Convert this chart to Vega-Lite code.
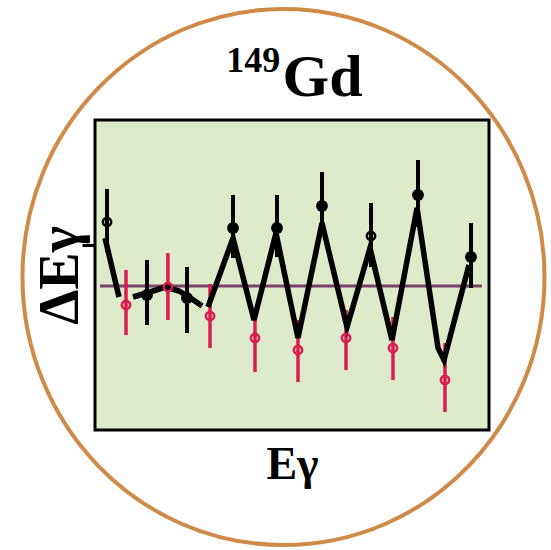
{
  "$schema": "https://vega.github.io/schema/vega-lite/v6.json",
  "autosize": {"type": "none"},
  "width": 394,
  "height": 310,
  "padding": {"left": 95, "top": 120, "right": 62, "bottom": 120},
  "background": "white",
  "config": {
    "view": {"fill": "#DDEBCB", "stroke": "black", "strokeWidth": 3},
    "font": "Liberation Serif"
  },
  "datasets": {
    "points": [
      {"e": 3.05, "d": 6.4, "lo": 3.4, "hi": 9.7, "sig": "black", "style": "open"},
      {"e": 7.87, "d": -1.9, "lo": -4.9, "hi": 1.6, "sig": "red", "style": "open"},
      {"e": 13.2, "d": -0.9, "lo": -3.9, "hi": 2.6, "sig": "black", "style": "filled"},
      {"e": 18.5, "d": -0.1, "lo": -3.4, "hi": 3.3, "sig": "red", "style": "open"},
      {"e": 23.35, "d": -1.2, "lo": -4.7, "hi": 1.9, "sig": "black", "style": "filled"},
      {"e": 29.19, "d": -3.0, "lo": -6.2, "hi": 0.2, "sig": "red", "style": "open"},
      {"e": 35.03, "d": 5.8, "lo": 2.8, "hi": 9.1, "sig": "black", "style": "filled"},
      {"e": 40.61, "d": -5.2, "lo": -8.6, "hi": -2.4, "sig": "red", "style": "open"},
      {"e": 46.19, "d": 5.8, "lo": 2.9, "hi": 9.1, "sig": "black", "style": "filled"},
      {"e": 51.52, "d": -6.4, "lo": -9.6, "hi": -3.4, "sig": "red", "style": "open"},
      {"e": 57.61, "d": 8.0, "lo": 5.1, "hi": 11.4, "sig": "black", "style": "filled"},
      {"e": 63.71, "d": -5.2, "lo": -8.4, "hi": -2.4, "sig": "red", "style": "open"},
      {"e": 70.05, "d": 5.0, "lo": 1.9, "hi": 8.3, "sig": "black", "style": "open"},
      {"e": 75.63, "d": -6.2, "lo": -9.4, "hi": -3.1, "sig": "red", "style": "open"},
      {"e": 81.98, "d": 9.1, "lo": 5.9, "hi": 12.6, "sig": "black", "style": "filled"},
      {"e": 88.83, "d": -9.4, "lo": -12.6, "hi": -5.7, "sig": "red", "style": "open"},
      {"e": 95.43, "d": 2.9, "lo": -0.2, "hi": 6.3, "sig": "black", "style": "filled"}
    ],
    "curve": [
      {"seg": 1, "ord": 1, "e": 2.54, "d": 4.8},
      {"seg": 1, "ord": 2, "e": 6.09, "d": -1.1},
      {"seg": 2, "ord": 1, "e": 9.64, "d": -1.1},
      {"seg": 2, "ord": 2, "e": 13.96, "d": -0.6},
      {"seg": 2, "ord": 3, "e": 18.02, "d": -0.1},
      {"seg": 2, "ord": 4, "e": 21.32, "d": -0.5},
      {"seg": 2, "ord": 5, "e": 24.62, "d": -1.3},
      {"seg": 2, "ord": 6, "e": 27.16, "d": -2.0},
      {"seg": 3, "ord": 1, "e": 28.68, "d": -2.1},
      {"seg": 3, "ord": 2, "e": 35.03, "d": 4.8},
      {"seg": 3, "ord": 3, "e": 40.36, "d": -3.4},
      {"seg": 3, "ord": 4, "e": 45.94, "d": 5.3},
      {"seg": 3, "ord": 5, "e": 51.52, "d": -5.2},
      {"seg": 3, "ord": 6, "e": 57.61, "d": 6.3},
      {"seg": 3, "ord": 7, "e": 63.96, "d": -4.1},
      {"seg": 3, "ord": 8, "e": 69.8, "d": 3.8},
      {"seg": 3, "ord": 9, "e": 75.38, "d": -5.4},
      {"seg": 3, "ord": 10, "e": 81.73, "d": 7.8},
      {"seg": 3, "ord": 11, "e": 87.06, "d": -6.2},
      {"seg": 3, "ord": 12, "e": 88.58, "d": -7.4},
      {"seg": 3, "ord": 13, "e": 94.92, "d": 2.1}
    ],
    "baseline": [{"e": 1.27, "e2": 98.2, "d": 0}],
    "frame": [{"e": 47.84, "d": 0.9}],
    "isotope": [
      {"e": 47.0, "d": 21.4, "part": "mass", "text": "149"},
      {"e": 47.6, "d": 19.0, "part": "element", "text": "Gd"}
    ]
  },
  "encoding": {
    "x": {
      "field": "e",
      "type": "quantitative",
      "scale": {"domain": [0, 100], "nice": false, "zero": false},
      "axis": {
        "title": "Eγ",
        "titleFont": "Liberation Serif",
        "titleFontWeight": "bold",
        "titleFontSize": 46,
        "titleColor": "black",
        "titlePadding": 12,
        "ticks": false,
        "labels": false,
        "domain": false,
        "grid": false
      }
    },
    "y": {
      "field": "d",
      "type": "quantitative",
      "scale": {"domain": [-14.4, 16.6], "nice": false, "zero": false},
      "axis": {
        "title": "ΔEγ",
        "titleFont": "Liberation Serif",
        "titleFontWeight": "bold",
        "titleFontSize": 56,
        "titleColor": "black",
        "titleBaseline": "alphabetic",
        "titlePadding": 3,
        "values": [4.1],
        "tickSize": 13,
        "tickWidth": 3,
        "tickColor": "black",
        "labels": false,
        "domain": false,
        "grid": false
      }
    }
  },
  "layer": [
    {
      "data": {"name": "frame"},
      "mark": {
        "type": "point",
        "shape": "M-1,0C-1,-0.5672,-0.5523,-1.027,0,-1.027C0.5523,-1.027,1,-0.5672,1,0C1,0.5672,0.5523,1.027,0,1.027C-0.5523,1.027,-1,0.5672,-1,0Z",
        "filled": false,
        "size": 272484,
        "stroke": "#D08A48",
        "strokeWidth": 4,
        "opacity": 1
      },
      "encoding": {}
    },
    {
      "data": {"name": "baseline"},
      "mark": {"type": "rule", "color": "#7B3F6E", "strokeWidth": 3},
      "encoding": {"x2": {"field": "e2"}}
    },
    {
      "data": {"name": "points"},
      "transform": [{"filter": "datum.sig === 'red'"}],
      "mark": {"type": "rule", "color": "#D81E4E", "strokeWidth": 3.5},
      "encoding": {"y": {"field": "lo", "type": "quantitative"}, "y2": {"field": "hi"}}
    },
    {
      "data": {"name": "points"},
      "transform": [{"filter": "datum.sig === 'black'"}],
      "mark": {"type": "rule", "color": "black", "strokeWidth": 4},
      "encoding": {"y": {"field": "lo", "type": "quantitative"}, "y2": {"field": "hi"}}
    },
    {
      "data": {"name": "curve"},
      "mark": {"type": "line", "color": "black", "strokeWidth": 5.5, "strokeJoin": "miter"},
      "encoding": {"detail": {"field": "seg"}, "order": {"field": "ord"}}
    },
    {
      "data": {"name": "points"},
      "transform": [{"filter": "datum.sig === 'red'"}],
      "mark": {"type": "point", "shape": "circle", "filled": false, "size": 70, "stroke": "#D81E4E", "strokeWidth": 2.5, "opacity": 1}
    },
    {
      "data": {"name": "points"},
      "transform": [{"filter": "datum.sig === 'black' && datum.style === 'open'"}],
      "mark": {"type": "point", "shape": "circle", "filled": false, "size": 70, "stroke": "black", "strokeWidth": 2.5, "opacity": 1}
    },
    {
      "data": {"name": "points"},
      "transform": [{"filter": "datum.sig === 'black' && datum.style === 'filled'"}],
      "mark": {"type": "point", "shape": "circle", "filled": true, "size": 140, "color": "black", "opacity": 1}
    },
    {
      "data": {"name": "isotope"},
      "transform": [{"filter": "datum.part === 'mass'"}],
      "mark": {"type": "text", "font": "Liberation Serif", "fontWeight": "bold", "fontSize": 36, "align": "right", "baseline": "alphabetic", "color": "black"},
      "encoding": {"text": {"field": "text"}}
    },
    {
      "data": {"name": "isotope"},
      "transform": [{"filter": "datum.part === 'element'"}],
      "mark": {"type": "text", "font": "Liberation Serif", "fontWeight": "bold", "fontSize": 60, "align": "left", "baseline": "alphabetic", "color": "black"},
      "encoding": {"text": {"field": "text"}}
    }
  ]
}
